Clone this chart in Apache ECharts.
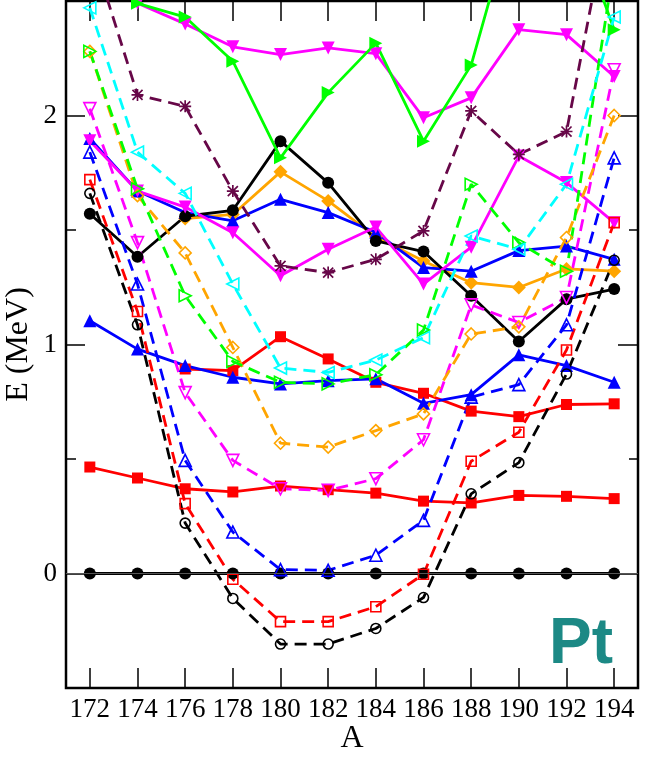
<!DOCTYPE html>
<html><head><meta charset="utf-8">
<script src="https://cdn.jsdelivr.net/npm/echarts@6/dist/echarts.min.js"></script>
<style>html,body{margin:0;padding:0;background:#fff}#c{width:647px;height:763px}</style>
</head><body><div id="c"></div><script>
// Mass numbers (x categories)
const massNumbers = ['172','174','176','178','180','182','184','186','188','190','192','194'];
const yMajorTicks = [0, 1, 2];

// Solid-line series (filled markers)
const groundState = [0,0,0,0,0,0,0,0,0,0,0,0];
const redLowSolid = [0.465,0.417,0.37,0.356,0.382,0.366,0.351,0.316,0.308,0.341,0.337,0.327];
const redUpSolid = [null,null,0.893,0.886,1.034,0.937,0.835,0.787,0.709,0.685,0.738,0.741];
const blueLowSolid = [1.104,0.98,0.908,0.857,0.828,0.842,0.85,0.743,0.781,0.955,0.908,0.835];
const orangeSolid = [null,null,1.55,1.568,1.754,1.627,1.47,1.365,1.27,1.249,1.33,1.32];
const blueUpSolid = [1.90,1.67,1.576,1.54,1.634,1.576,1.49,1.336,1.32,1.41,1.43,1.372];
const blackUpSolid = [1.571,1.383,1.56,1.586,1.888,1.706,1.452,1.406,1.213,1.013,1.198,1.242];
const magentaMidSolid = [1.89,1.67,1.60,1.488,1.30,1.416,1.513,1.264,1.425,1.823,1.707,1.532];
const magentaUpSolid = [null,2.49,2.40,2.30,2.266,2.295,2.27,1.99,2.077,2.375,2.353,2.17];
const greenSolid = [null,2.49,2.43,2.237,1.815,2.10,2.316,1.888,2.22,2.96,2.95,2.375];

// Dashed-line series (open markers)
const blackDash = [1.66,1.086,0.22,-0.109,-0.308,-0.308,-0.24,-0.105,0.348,0.484,0.871,1.368];
const redDash = [1.72,1.144,0.305,-0.025,-0.21,-0.21,-0.145,-0.003,0.49,0.617,0.976,1.532];
const blueDash = [1.84,1.264,0.494,0.181,0.017,0.014,0.08,0.232,0.77,0.825,1.086,1.815];
const magentaDash = [2.03,1.445,0.79,0.494,0.37,0.363,0.414,0.584,1.173,1.096,1.205,2.20];
const orangeDash = [2.28,1.65,1.40,0.987,0.569,0.552,0.624,0.697,1.046,1.077,1.467,2.0];
const greenDash = [2.28,1.68,1.213,0.926,0.835,0.828,0.868,1.063,1.70,1.445,1.32,2.66];
const cyanDash = [2.47,1.84,1.66,1.264,0.897,0.878,0.932,1.03,1.474,1.416,1.70,2.43];
const maroonDash = [2.75,2.09,2.04,1.67,1.343,1.314,1.372,1.496,2.02,1.83,1.93,3.0];

const C = {black:'#000000', red:'#ff0000', blue:'#0000ff', orange:'#ffa500', magenta:'#ff00ff',
           green:'#00ff00', cyan:'#00ffff', maroon:'#670748'};
const asterisk = 'path://M0,4.3L10,4.3L10,5.7L0,5.7Z M4.3,0L5.7,0L5.7,10L4.3,10Z M1.3,0.3L9.7,8.7L8.7,9.7L0.3,1.3Z M8.7,0.3L9.7,1.3L1.3,9.7L0.3,8.7Z';

function solid(name, data, color, symbol, rot, size) {
  return {name, type:'line', data, symbol, symbolSize:size, symbolRotate:rot||0,
    showAllSymbol:true, connectNulls:false, clip:true,
    lineStyle:{color, width:2.8, type:'solid'},
    itemStyle:{color}};
}
function dashed(name, data, color, symbol, rot, size, filled) {
  return {name, type:'line', data, symbol, symbolSize:size, symbolRotate:rot||0,
    showAllSymbol:true, clip:true,
    lineStyle:{color, width:2.8, type:[12,7]},
    itemStyle: filled ? {color} : {color:'rgba(255,255,255,0)', borderColor:color, borderWidth:1.6}};
}

const series = [
  Object.assign(solid('g.s.', groundState, C.black, 'circle', 0, 12), {
    markLine:{silent:true, symbol:'none', label:{show:false},
      lineStyle:{color:'#555', width:1, type:'solid'}, data:[{yAxis:0}]}}),
  solid('redLow', redLowSolid, C.red, 'rect', 0, 11),
  solid('redUp', redUpSolid, C.red, 'rect', 0, 11),
  solid('blueLow', blueLowSolid, C.blue, 'triangle', 0, 13),
  solid('orange', orangeSolid, C.orange, 'diamond', 0, 14),
  solid('blueUp', blueUpSolid, C.blue, 'triangle', 0, 13),
  solid('blackUp', blackUpSolid, C.black, 'circle', 0, 12),
  solid('magentaMid', magentaMidSolid, C.magenta, 'triangle', 180, 13),
  solid('magentaUp', magentaUpSolid, C.magenta, 'triangle', 180, 13),
  solid('green', greenSolid, C.green, 'triangle', -90, 13),
  dashed('blackDash', blackDash, C.black, 'circle', 0, 10),
  dashed('redDash', redDash, C.red, 'rect', 0, 10),
  dashed('blueDash', blueDash, C.blue, 'triangle', 0, 12),
  dashed('magentaDash', magentaDash, C.magenta, 'triangle', 180, 12),
  dashed('orangeDash', orangeDash, C.orange, 'diamond', 0, 12),
  dashed('greenDash', greenDash, C.green, 'triangle', -90, 12),
  dashed('cyanDash', cyanDash, C.cyan, 'triangle', 90, 12),
  dashed('maroonDash', maroonDash, C.maroon, asterisk, 0, 12, true)
];

const serif = '"Liberation Serif", "DejaVu Serif", serif';
const tickStyle = {color:'#000', width:1.5};
const chart = echarts.init(document.getElementById('c'), null, {renderer:'canvas'});
chart.setOption({
  animation:false,
  backgroundColor:'#ffffff',
  grid:{left:66, right:9, top:1, bottom:75, containLabel:false, outerBoundsMode:'none',
        show:true, borderColor:'#000', borderWidth:2.5, backgroundColor:'transparent'},
  xAxis:[
    {type:'category', data:massNumbers, boundaryGap:true, position:'bottom',
     axisLine:{show:false, onZero:false}, splitLine:{show:false},
     axisTick:{show:true, inside:true, alignWithLabel:true, length:20, lineStyle:tickStyle},
     axisLabel:{color:'#000', fontFamily:serif, fontSize:27, margin:8, interval:0, hideOverlap:false},
     name:'A', nameLocation:'middle', nameGap:35, nameMoveOverlap:false,
     nameTextStyle:{color:'#000', fontFamily:serif, fontSize:32}},
    {type:'category', data:massNumbers, boundaryGap:true, position:'top',
     axisLine:{show:false, onZero:false}, splitLine:{show:false}, axisLabel:{show:false},
     axisTick:{show:true, inside:true, alignWithLabel:true, interval:0, length:20, lineStyle:tickStyle}}
  ],
  yAxis:[
    {type:'value', min:-0.5, max:2.5, interval:0.5, position:'left',
     axisLine:{show:false, onZero:false}, splitLine:{show:false},
     axisTick:{show:true, inside:true, length:10, lineStyle:tickStyle},
     axisLabel:{color:'#000', fontFamily:serif, fontSize:27, margin:9,
       formatter:v => (Math.abs(v - Math.round(v)) < 1e-6 ? String(Math.round(v)) : '')},
     name:'E (MeV)', nameLocation:'middle', nameGap:31, nameRotate:90, nameMoveOverlap:false,
     nameTextStyle:{color:'#000', fontFamily:serif, fontSize:32}},
    {type:'value', min:-0.5, max:2.5, position:'left',
     axisLine:{show:false, onZero:false}, splitLine:{show:false}, axisLabel:{show:false},
     axisTick:{show:true, inside:true, length:19, customValues:yMajorTicks, lineStyle:tickStyle}},
    {type:'value', min:-0.5, max:2.5, interval:0.5, position:'right',
     axisLine:{show:false, onZero:false}, splitLine:{show:false}, axisLabel:{show:false},
     axisTick:{show:true, inside:true, length:9, lineStyle:tickStyle}},
    {type:'value', min:-0.5, max:2.5, position:'right',
     axisLine:{show:false, onZero:false}, splitLine:{show:false}, axisLabel:{show:false},
     axisTick:{show:true, inside:true, length:20, customValues:yMajorTicks, lineStyle:tickStyle}}
  ],
  graphic:[
    {type:'text', left:549, top:613, z:100,
     style:{text:'Pt', font:'bold 64px "Liberation Sans", Arial, sans-serif', fill:'#1c8985'}}
  ],
  series
});
</script></body></html>
